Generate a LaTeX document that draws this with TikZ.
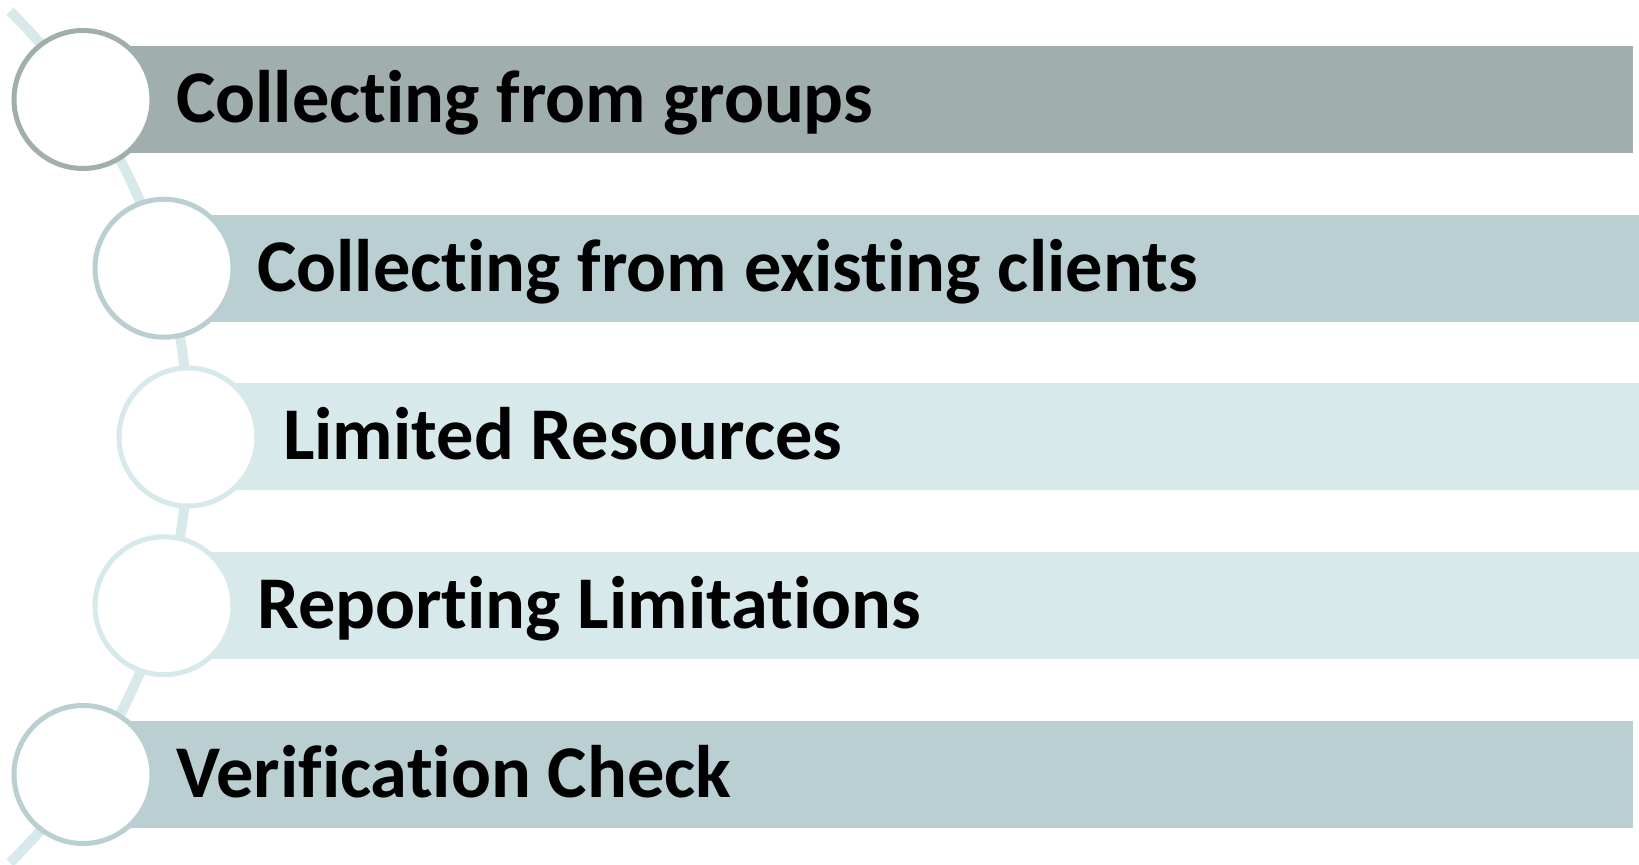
\documentclass[tikz,border=0pt]{standalone}
\usepackage{fontspec}
\setmainfont{Carlito}[Ligatures=NoCommon]
\definecolor{cA}{HTML}{A1AEAE}
\definecolor{cB}{HTML}{B9CFD2}
\definecolor{cC}{HTML}{D8E9EC}
\begin{document}
\begin{tikzpicture}[x=1pt,y=1pt,
  bar/.style={rectangle, anchor=west, minimum width=1550pt, minimum height=107pt, inner sep=0pt, draw=none},
  circ/.style={circle, fill=white, line width=5pt, minimum size=138pt, inner sep=0pt},
  lbl/.style={anchor=base west, inner sep=0pt, font=\fontsize{74.4}{88}\selectfont\bfseries}]
\useasboundingbox (0,0) rectangle (1639,865);
\coordinate (arcc) at (-408.5,428);
\draw[cC, line width=10pt] ([shift={(45.5:597)}]arcc) arc (45.5:-45.5:597);
\node[bar, fill=cA] (b1) at (83,765.5) {};
\node[bar, fill=cB] (b2) at (164,596.75) {};
\node[bar, fill=cC] (b3) at (188,428) {};
\node[bar, fill=cC] (b4) at (164,259.25) {};
\node[bar, fill=cB] (b5) at (83,90.5) {};
\node[circ, draw=cA] (c1) at (83,765.5) {};
\node[circ, draw=cB] (c2) at (164,596.75) {};
\node[circ, draw=cC] (c3) at (188,428) {};
\node[circ, draw=cC] (c4) at (164,259.25) {};
\node[circ, draw=cB] (c5) at (83,90.5) {};
\node[lbl] (t1) at (176,742.5) {Collecting from groups};
\node[lbl] (t2) at (257,573.75) {Collecting from existing clients};
\node[lbl] (t3) at (283,405) {Limited Resources};
\node[lbl] (t4) at (257,236.25) {Reporting Limitations};
\node[lbl] (t5) at (176,67.5) {Verification Check};
\end{tikzpicture}
\end{document}
